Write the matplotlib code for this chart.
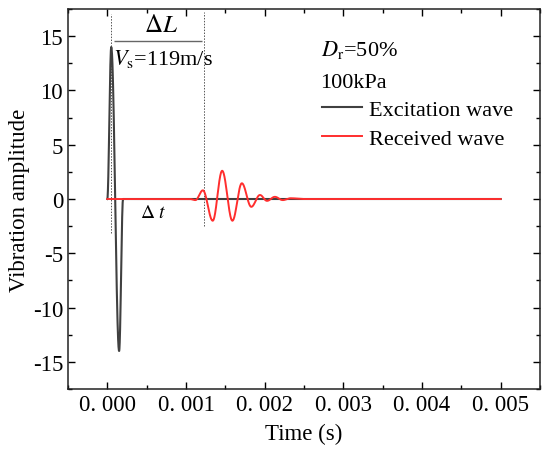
import numpy as np
import matplotlib.pyplot as plt
from matplotlib.ticker import MultipleLocator, FuncFormatter

plt.rcParams["font.family"] = ["Liberation Serif", "DejaVu Serif"]
plt.rcParams["mathtext.fontset"] = "stix"

# key points (time in s, amplitude)
exc_t = [0.0, 0.00005, 0.00015, 0.0002, 0.005]
exc_a = [0.0, 14.0, -14.0, 0.0, 0.0]

rec_t = [0.0, 0.00105, 0.00112, 0.001215, 0.00134, 0.00146, 0.00159, 0.00171,
         0.00183, 0.00194, 0.00203, 0.00213, 0.00223, 0.00233, 0.0025, 0.005]
rec_a = [0.0, 0.0, -0.1, 0.8, -2.0, 2.6, -2.0, 1.45,
         -0.72, 0.37, -0.17, 0.2, -0.1, 0.07, 0.0, 0.0]

marker_t = [0.00005, 0.001225]   # dotted guide lines
frac_t = [0.00008, 0.0012]       # ΔL / Vs fraction bar


def smooth(ts, ys, n=40):
    # half-cosine joins between the read points
    xs, vs = [], []
    for i in range(len(ts) - 1):
        s = np.linspace(0, 1, n, endpoint=False)
        w = (1 - np.cos(np.pi * s)) / 2
        xs.append(ts[i] + (ts[i + 1] - ts[i]) * s)
        vs.append(ys[i] + (ys[i + 1] - ys[i]) * w)
    xs.append([ts[-1]])
    vs.append([ys[-1]])
    return np.concatenate(xs), np.concatenate(vs)


fig = plt.figure(figsize=(5.5, 4.64), dpi=100)
ax = fig.add_axes([0.1236, 0.1595, 0.8582, 0.8189])

x1, y1 = smooth(exc_t, exc_a)
x2, y2 = smooth(rec_t, rec_a)
ax.plot(x1, y1, color="#404040", lw=1.5, label="Excitation wave", zorder=3)
ax.plot(x2, y2, color="#ff2e2e", lw=1.4, label="Received wave", zorder=4)

ax.vlines(marker_t, [-3.1, -2.5], [17.0, 17.2], colors="#555555",
          linestyles=(0, (1.5, 1.5)), lw=0.7, zorder=2)
ax.hlines(14.6, frac_t[0], frac_t[1], colors="#666666", lw=1.0)
ax.text(0.00068, 16.0, r"$\Delta L$", fontsize=18, ha="center", va="center")
ax.text(0.00071, 13.0, r"$V_\mathrm{s}$=119m/s", fontsize=16,
        ha="center", va="center")
ax.text(0.00059, -1.2, r"$\Delta$ $t$", fontsize=14, ha="center", va="center")

ax.text(0.00271, 13.8, r"$D_\mathrm{r}$=50%", fontsize=16, va="center")
ax.text(0.00271, 10.7, "100kPa", fontsize=16, va="center")
ax.legend(loc="upper left", bbox_to_anchor=(0.519, 0.786), frameon=False,
          fontsize=16, handlelength=1.8, handletextpad=0.3, labelspacing=0.4,
          borderaxespad=0.0)

ax.set_xlim(-0.0005, 0.0055)
ax.set_ylim(-17.5, 17.5)
ax.xaxis.set_major_locator(MultipleLocator(0.001))
ax.xaxis.set_minor_locator(MultipleLocator(0.0005))
ax.yaxis.set_major_locator(MultipleLocator(5))
ax.yaxis.set_minor_locator(MultipleLocator(2.5))
ax.xaxis.set_major_formatter(FuncFormatter(lambda v, p: f"{v:.3f}".replace(".", ". ")))
ax.yaxis.set_major_formatter(FuncFormatter(lambda v, p: f"{v:.0f}"))
ax.tick_params(which="both", direction="in", top=True, right=True,
               labelsize=16.5, width=1.0)
ax.tick_params(which="major", length=5)
ax.tick_params(which="minor", length=3)
for sp in ax.spines.values():
    sp.set_linewidth(1.1)
    sp.set_color("#222222")

ax.set_xlabel("Time (s)", fontsize=16.5, labelpad=6)
ax.set_ylabel("Vibration amplitude", fontsize=16.5, labelpad=2)

fig.savefig("out.png", dpi=100)
